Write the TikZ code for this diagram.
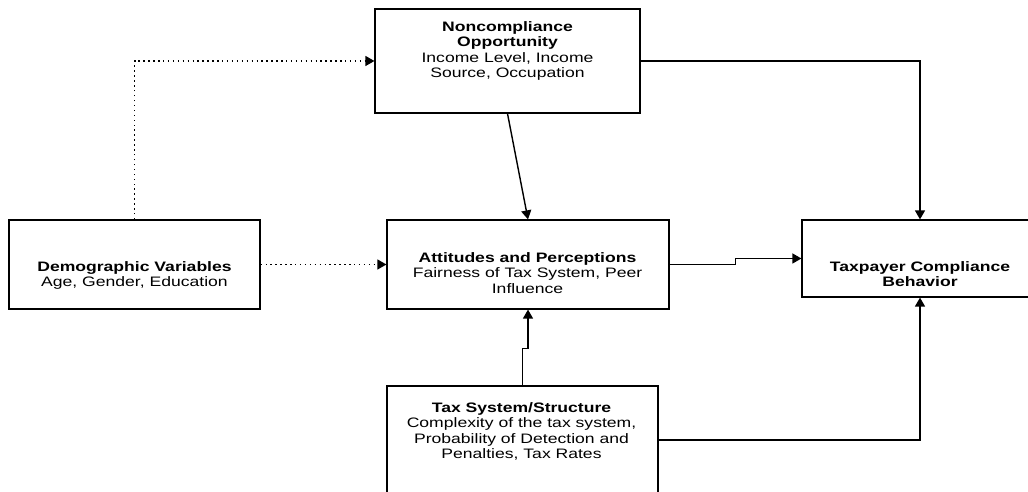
\documentclass[tikz,border=0pt]{standalone}
\usepackage{fontspec}
\setmainfont{Liberation Sans}
\usetikzlibrary{arrows.meta,positioning}

\newcommand{\boxlines}[1]{\scalebox{1}[0.78]{\fontsize{10}{11}\selectfont\begin{tabular}{@{}c@{}}#1\end{tabular}}}

\begin{document}
\begin{tikzpicture}[x=0.02cm, y=-0.02cm,
        box/.style={draw, line width=0.7pt, inner sep=0pt},
        txt/.style={inner sep=0pt, anchor=north},
        link/.style={line width=0.8pt, -{Triangle[length=1.8mm,width=2mm]}},
        weak/.style={link, dotted, line width=0.7pt}]
        \useasboundingbox (0,0) rectangle (1028,492);

        \node[box, minimum width=5.30cm, minimum height=2.08cm] (nonc) at (507.5,61) {};
        \node[box, minimum width=5.02cm, minimum height=1.78cm] (demo) at (134.5,264.5) {};
        \node[box, minimum width=5.64cm, minimum height=1.78cm] (att) at (528,264.5) {};
        \node[box, minimum width=4.72cm, minimum height=1.54cm] (comp) at (920,258.5) {};
        \node[box, minimum width=5.42cm, minimum height=2.16cm] (tax) at (522.5,440) {};

        \node[txt] (nonc-t) at (507.5,21) {\boxlines{\textbf{Noncompliance}\\\textbf{Opportunity}\\Income Level, Income\\Source, Occupation}};
        \node[txt] (demo-t) at (134.5,261) {\boxlines{\textbf{Demographic Variables}\\Age, Gender, Education}};
        \node[txt] (att-t) at (527.5,252) {\boxlines{\textbf{Attitudes and Perceptions}\\Fairness of Tax System, Peer\\Influence}};
        \node[txt] (comp-t) at (920,261) {\boxlines{\textbf{Taxpayer Compliance}\\\textbf{Behavior}}};
        \node[txt] (tax-t) at (521.5,402) {\boxlines{\textbf{Tax System/Structure}\\Complexity of the tax system,\\Probability of Detection and\\Penalties, Tax Rates}};

        \draw[weak] (demo.north) |- (nonc.west);
        \draw[weak] (demo.east) -- (att.west);
        \draw[link] (nonc.south) -- (att.north);
        \draw[link] (nonc.east) -| (comp.north);
        \draw[link] (att.east) -- ++(66,0) |- (comp.west);
        \draw[link] (tax.north) -- ++(0,-37) -| (att.south);
        \draw[link] (tax.east) -| (comp.south);
    \end{tikzpicture}
\end{document}
